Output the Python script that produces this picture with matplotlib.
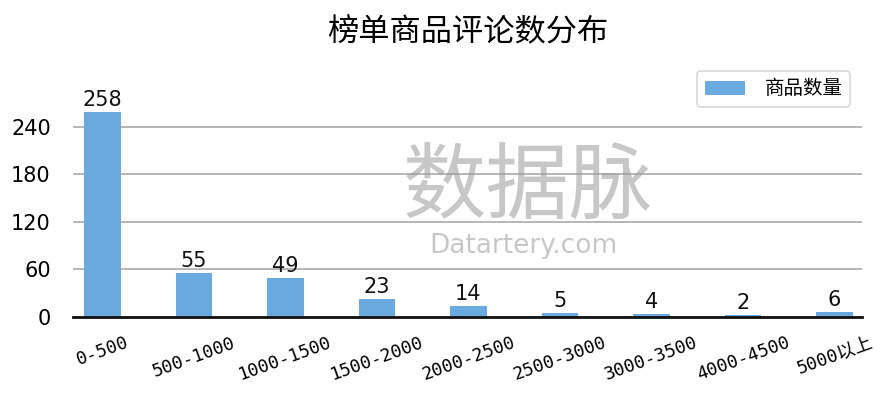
import matplotlib
matplotlib.use("Agg")
import matplotlib.pyplot as plt

categories = ["0-500", "500-1000", "1000-1500", "1500-2000", "2000-2500",
              "2500-3000", "3000-3500", "4000-4500", "5000以上"]
values = [258, 55, 49, 23, 14, 5, 4, 2, 6]
yticks = [0, 60, 120, 180, 240]
series_name = "商品数量"
title = "榜单商品评论数分布"

plt.rcParams['font.family'] = ['DejaVu Sans', 'Noto Sans CJK SC']

fig = plt.figure(figsize=(8.93, 3.99), dpi=100)
ax = fig.add_axes([73/893, 82/399, (862-73)/893, (317-95)/399])

x = list(range(len(categories)))
bars = ax.bar(x, values, width=0.4, color='#6AAADE', label=series_name, zorder=3)
for xi, v in zip(x, values):
    ax.annotate(str(v), (xi, v), xytext=(0, 4.5), textcoords='offset points',
                ha='center', va='baseline', fontsize=15, color='#111111', zorder=4)

ax.set_xlim(-0.32, 8.3)
ax.set_ylim(0, 280)
ax.set_yticks(yticks)
ax.set_yticklabels([str(t) for t in yticks], fontsize=15)
ax.set_xticks(x)
ax.set_xticklabels(categories, rotation=20, ha='center',
                   family=['DejaVu Sans Mono', 'Noto Sans CJK SC'], fontsize=13)
ax.tick_params(axis='y', length=0, pad=16)
ax.tick_params(axis='x', length=0, pad=12)
ax.grid(axis='y', color='#aaaaaa', linewidth=1.2, zorder=0)
for s in ['top', 'right', 'left']:
    ax.spines[s].set_visible(False)
ax.spines['bottom'].set_linewidth(2)
ax.spines['bottom'].set_color('#111111')
ax.spines['bottom'].set_zorder(5)

leg = ax.legend(loc='upper right', bbox_to_anchor=(860/893, 1 - 61/399), bbox_transform=fig.transFigure,
                frameon=True, fancybox=True, handlelength=2.05, handleheight=0.72,
                prop={'family': ['Noto Sans CJK SC'], 'size': 14}, handletextpad=1.0)
leg.get_frame().set_edgecolor('#cccccc')
leg.get_frame().set_linewidth(1.2)

fig.text(468/893, 1 - 32/399, title, ha='center', va='center', fontsize=22.5,
         family=['Noto Sans CJK SC'])

# watermark
fig.text(528/893, 1 - 188/399, "数据脉", ha='center', va='center', fontsize=60,
         family=['Noto Sans CJK SC'], color='#9a9a9a', alpha=0.55, zorder=10)
fig.text(524/893, 1 - 246/399, "Datartery.com", ha='center', va='center', fontsize=19,
         color='#9a9a9a', alpha=0.55, zorder=10)

fig.savefig("out.png", dpi=100)
